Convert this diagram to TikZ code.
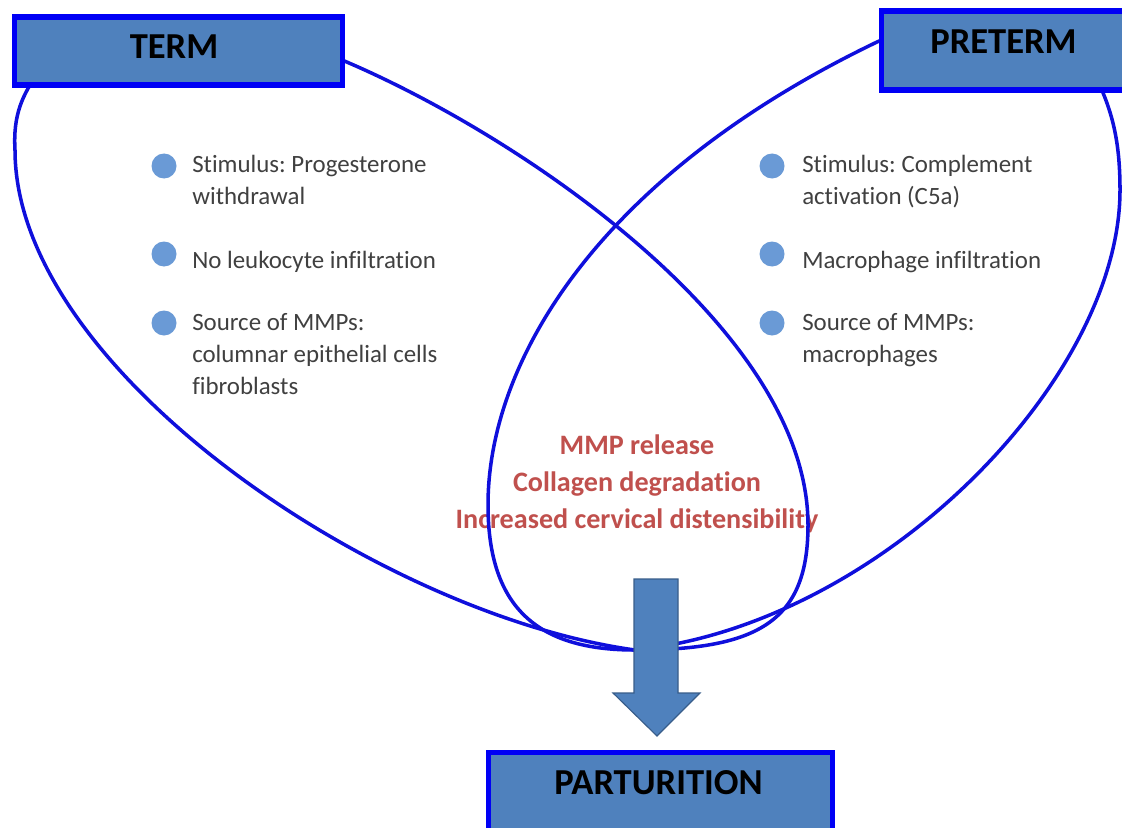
\documentclass[tikz,border=0pt]{standalone}
\usepackage{fontspec}
\setmainfont{Carlito}[Ligatures=NoCommon]
\usepackage{xcolor}
\usetikzlibrary{arrows.meta, calc, positioning}
\frenchspacing

\definecolor{boxblue}{RGB}{79,129,189}
\definecolor{rimblue}{RGB}{0,0,245}
\definecolor{loopblue}{RGB}{15,15,220}
\definecolor{dotblue}{RGB}{106,154,214}
\definecolor{itemgray}{RGB}{64,64,64}
\definecolor{mmpred}{RGB}{192,80,77}
\definecolor{arrowrim}{RGB}{56,93,138}
\newcommand{\px}{0.025cm}

\tikzset{
  titlebox/.style={draw=rimblue, line width=3.6pt, fill=boxblue, inner sep=0pt, anchor=north west},
  titletext/.style={font=\fontsize{26}{30}\selectfont\bfseries, text=black, inner sep=0pt},
  itemtext/.style={font=\fontsize{17.7}{22.7}\selectfont, text=itemgray, align=left, anchor=north west, inner sep=0pt},
  mmptext/.style={font=\fontsize{20}{26.6}\selectfont\bfseries, text=mmpred, align=center, anchor=north, inner sep=0pt},
  loopline/.style={draw=loopblue, line width=2.5pt, line cap=round, line join=round},
}

\begin{document}
\begin{tikzpicture}[x=\px, y=-\px]
\useasboundingbox (0,0) rectangle (1122,827);
\clip (0,0) rectangle (1122,827);
\fill[white] (0,0) rectangle (1122,827);

% Shared outcome
\node[mmptext] (mmp) at (637,434) {MMP release\\Collagen degradation\\Increased cervical distensibility};

% Term loop
\draw[loopline] (635,650) .. controls (380,615) and (15,370) .. (15,150)
  .. controls (13,115) and (22,95) .. (40,70)
  .. controls (80,10) and (250,20) .. (342,60)
  .. controls (520,135) and (808,330) .. (808,525)
  .. controls (808,620) and (760,650) .. (635,650);

% Preterm loop
\draw[loopline] (635,650) .. controls (880,625) and (1120,380) .. (1120,190)
  .. controls (1120,140) and (1112,110) .. (1095,75)
  .. controls (1060,15) and (960,5) .. (877,42)
  .. controls (600,175) and (488,360) .. (488,505)
  .. controls (488,610) and (540,650) .. (635,650);

% Bullets
\foreach \y in {166,254,323} {
  \fill[dotblue] (164,\y) circle (12.5);
  \fill[dotblue] (772,\y) circle (12.5);
}
\node[itemtext] (term1) at (192,155) {Stimulus: Progesterone\\withdrawal};
\node[itemtext] (term2) at (192,251) {No leukocyte infiltration};
\node[itemtext] (term3) at (192,313) {Source of MMPs:\\columnar epithelial cells\\fibroblasts};
\node[itemtext] (pre1) at (802,155) {Stimulus: Complement\\activation (C5a)};
\node[itemtext] (pre2) at (802,251) {Macrophage infiltration};
\node[itemtext] (pre3) at (802,313) {Source of MMPs:\\macrophages};

% Title boxes
\node[titlebox, minimum width=328*\px, minimum height=68*\px] (termbox) at (11.5,14.5) {};
\node[titletext] (termtxt) at (174,46.5) {TERM};
\node[titlebox, minimum width=260*\px, minimum height=79*\px] (prebox) at (878.5,8.5) {};
\node[titletext] (pretxt) at (1003.5,41.5) {PRETERM};
\node[titlebox, minimum width=344*\px, minimum height=100*\px] (partbox) at (485.5,749.5) {};
\node[titletext] (parttxt) at (658.5,783) {PARTURITION};

% Block arrow
\draw[fill=boxblue, draw=arrowrim, line width=0.8pt] (634,579) -- (678,579) -- (678,693) -- (700,693)
  -- (657,736) -- (613,693) -- (634,693) -- cycle;
\end{tikzpicture}
\end{document}
